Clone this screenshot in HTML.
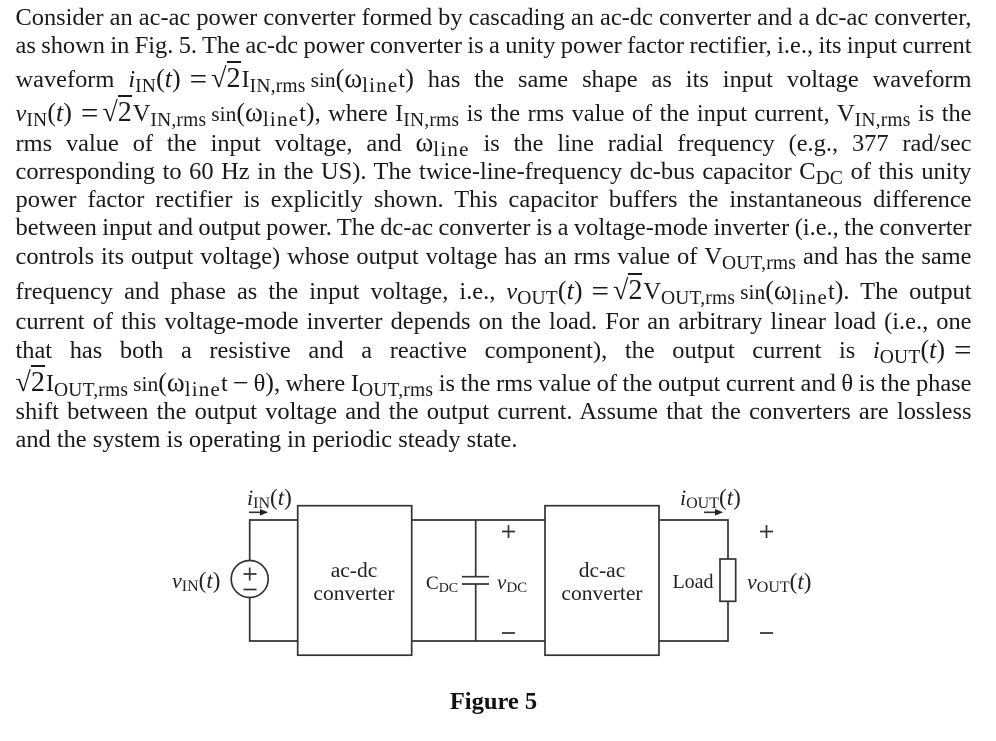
<!DOCTYPE html>
<html><head><meta charset="utf-8">
<style>
html,body{margin:0;padding:0;background:#fff}
#p{position:relative;width:996px;height:741px;overflow:hidden;background:#fff;color:#1a1a1a;font-family:"Liberation Serif",serif;filter:blur(.35px)}
.l{position:absolute;left:15.5px;width:956px;height:30px;line-height:30px;font-size:24.4px;text-align:justify;text-align-last:justify;word-spacing:-3px}
.l.n{text-align:left;text-align-last:left;white-space:nowrap;word-spacing:0}
i{font-style:italic}
sub{font-size:19.5px;line-height:0;vertical-align:baseline;position:relative;top:5px;letter-spacing:.2px}
sub.x{font-size:21px;letter-spacing:1.2px}
.e{display:inline-block;white-space:nowrap;text-align:left;text-align-last:left;word-spacing:0}
.q{font-size:31px;margin:0 4px 0 9px;line-height:0;position:relative;top:2px}
.m{font-size:28px;margin:0 5px;line-height:0;position:relative;top:1px}
.b{font-size:26px;line-height:0}
.rt{font-size:28px;line-height:0}
.w{font-size:27px;line-height:0}
.f{font-size:21.500px;margin-left:5px}
.r{border-top:2px solid #1a1a1a;margin-right:1px}
svg{position:absolute;left:0;top:0}
svg text{font-family:"Liberation Serif",serif;fill:#222}
</style></head><body><div id="p">
<div class="l" style="top:3px">Consider an ac-ac power converter formed by cascading an ac-dc converter and a dc-ac converter,</div>
<div class="l" style="top:31px">as shown in Fig. 5. The ac-dc power converter is a unity power factor rectifier, i.e., its input current</div>
<div class="l" style="top:65px">waveform <span class="e"><i>i</i><sub>IN</sub><span class="b">(<i>t</i>)</span><span class="q">=</span><span class="rt">√<span class="r">2</span></span>I<sub>IN,rms</sub><span class="f">sin</span><span class="b">(</span><span class="w">ω</span><sub class="x">line</sub>t<span class="b">)</span></span> has the same shape as its input voltage waveform</div>
<div class="l" style="top:99px"><span class="e"><i>v</i><sub>IN</sub><span class="b">(<i>t</i>)</span><span class="q">=</span><span class="rt">√<span class="r">2</span></span>V<sub>IN,rms</sub><span class="f">sin</span><span class="b">(</span><span class="w">ω</span><sub class="x">line</sub>t<span class="b">)</span>,</span> where <span class="e">I<sub>IN,rms</sub></span> is the rms value of the input current, <span class="e">V<sub>IN,rms</sub></span> is the</div>
<div class="l" style="top:129px">rms value of the input voltage, and <span class="e"><span class="w">ω</span><sub class="x">line</sub></span> is the line radial frequency (e.g., 377 rad/sec</div>
<div class="l" style="top:157px">corresponding to 60 Hz in the US). The twice-line-frequency dc-bus capacitor <span class="e">C<sub>DC</sub></span> of this unity</div>
<div class="l" style="top:185px">power factor rectifier is explicitly shown. This capacitor buffers the instantaneous difference</div>
<div class="l" style="top:213px">between input and output power. The dc-ac converter is a voltage-mode inverter (i.e., the converter</div>
<div class="l" style="top:242px">controls its output voltage) whose output voltage has an rms value of <span class="e">V<sub>OUT,rms</sub></span> and has the same</div>
<div class="l" style="top:277px">frequency and phase as the input voltage, i.e., <span class="e"><i>v</i><sub>OUT</sub><span class="b">(<i>t</i>)</span><span class="q">=</span><span class="rt">√<span class="r">2</span></span>V<sub>OUT,rms</sub><span class="f">sin</span><span class="b">(</span><span class="w">ω</span><sub class="x">line</sub>t<span class="b">)</span>.</span> The output</div>
<div class="l" style="top:307px">current of this voltage-mode inverter depends on the load. For an arbitrary linear load (i.e., one</div>
<div class="l" style="top:336px">that has both a resistive and a reactive component), the output current is <span class="e"><i>i</i><sub>OUT</sub><span class="b">(<i>t</i>)</span><span class="q" style="margin-right:0">=</span></span></div>
<div class="l" style="top:369px"><span class="e"><span class="rt">√<span class="r">2</span></span>I<sub>OUT,rms</sub><span class="f">sin</span><span class="b">(</span><span class="w">ω</span><sub class="x">line</sub>t<span class="m">−</span>θ<span class="b">)</span>,</span> where <span class="e">I<sub>OUT,rms</sub></span> is the rms value of the output current and θ is the phase</div>
<div class="l" style="top:397px">shift between the output voltage and the output current. Assume that the converters are lossless</div>
<div class="l n" style="top:425px">and the system is operating in periodic steady state.</div>

<svg width="996" height="741" viewBox="0 0 996 741">
<g fill="none" stroke="#333" stroke-width="1.7">
<rect x="297.7" y="505.7" width="114" height="149.5"/>
<rect x="545" y="505.7" width="114" height="149.5"/>
<path d="M297.7 520H249.7V560.5M249.7 597.5V641H297.7"/>
<circle cx="249.7" cy="579" r="18.5"/>
<path d="M411.7 520H545M411.7 641H545"/>
<path d="M475.7 520V576.7M475.7 584V641"/>
<path d="M462 576.7H489M462 584H489"/>
<path d="M659 520H728V559M728 601.3V641H659"/>
<rect x="720" y="559" width="15.7" height="42.3"/>
<path d="M243.500 574H256.500M249.700 567.500V580.500M243.500 589.500H256.500"/>
<path d="M249 512.300H265M704 512.300H720"/>
<path d="M502 531.500H515M508.500 525V538M502 633H515M760 531.500H773M766.500 525V538M760 633H773"/>
</g>
<path d="M268 512.300L260 509V515.600ZM723 512.300L715 509V515.600Z" fill="#222"/>
<g font-size="21.500">
<text x="247" y="505" font-size="22"><tspan font-style="italic">i</tspan><tspan font-size="16" dy="3">IN</tspan><tspan dy="-3" font-size="23">(</tspan><tspan font-style="italic" font-size="23">t</tspan><tspan font-size="23">)</tspan></text>
<text x="680" y="505" font-size="22"><tspan font-style="italic">i</tspan><tspan font-size="16" dy="3">OUT</tspan><tspan dy="-3" font-size="23">(</tspan><tspan font-style="italic" font-size="23">t</tspan><tspan font-size="23">)</tspan></text>
<text x="172" y="588" font-size="22"><tspan font-style="italic">v</tspan><tspan font-size="16" dy="3">IN</tspan><tspan dy="-3" font-size="23">(</tspan><tspan font-style="italic" font-size="23">t</tspan><tspan font-size="23">)</tspan></text>
<text x="426" y="589" font-size="19">C<tspan font-size="14" dy="3">DC</tspan></text>
<text x="497" y="589" font-size="21"><tspan font-style="italic">v</tspan><tspan font-size="15" dy="3">DC</tspan></text>
<text x="747" y="589" font-size="22"><tspan font-style="italic">v</tspan><tspan font-size="16" dy="3">OUT</tspan><tspan dy="-3" font-size="23">(</tspan><tspan font-style="italic" font-size="23">t</tspan><tspan font-size="23">)</tspan></text>
<text x="354" y="577" text-anchor="middle">ac-dc</text>
<text x="354" y="600" text-anchor="middle">converter</text>
<text x="602" y="577" text-anchor="middle">dc-ac</text>
<text x="602" y="600" text-anchor="middle">converter</text>
<text x="693" y="588" text-anchor="middle" font-size="20">Load</text>
</g>
<text x="493.500" y="709" text-anchor="middle" font-size="24.500" font-weight="bold" style="fill:#111">Figure 5</text>
</svg>
</div></body></html>
